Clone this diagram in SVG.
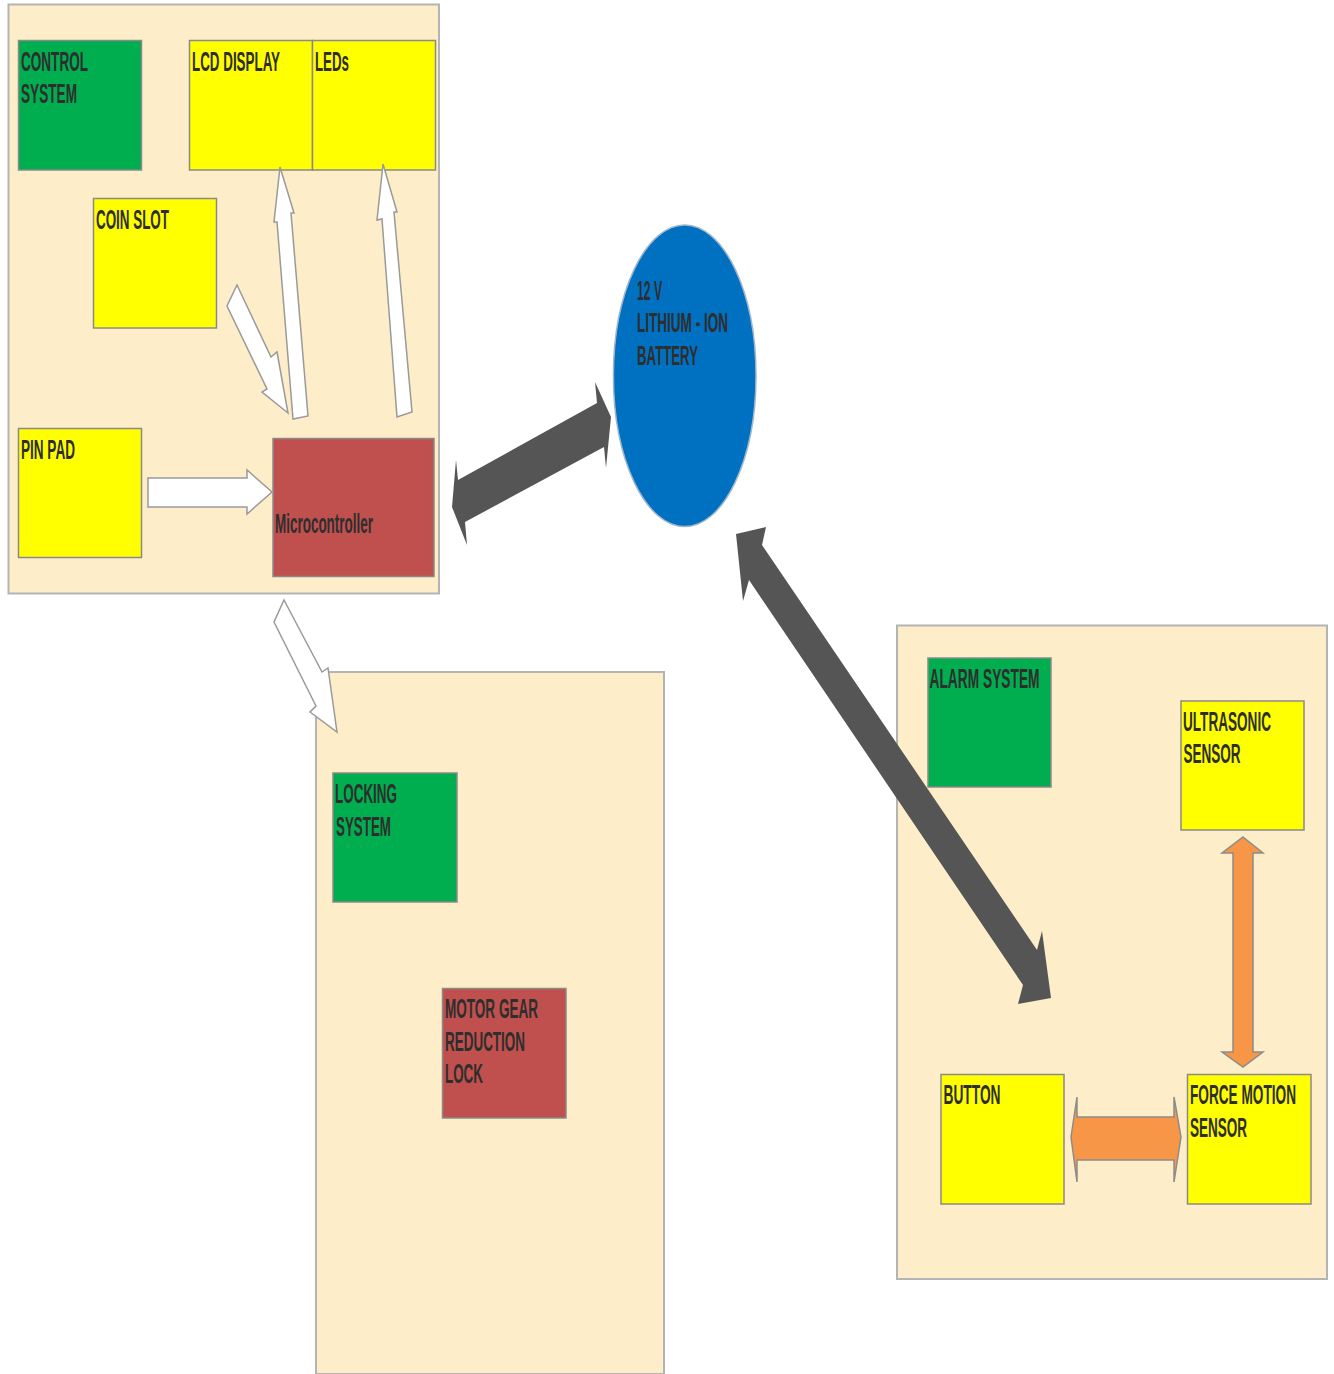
<svg xmlns="http://www.w3.org/2000/svg" width="1334" height="1374" viewBox="0 0 1334 1374">
<style>
.panel{fill:#fdeec9;stroke:#b4b4b4;stroke-width:2}
.box{stroke:#8a8a8a;stroke-width:1.5}
.green{fill:#00ad4f}
.yellow{fill:#ffff00}
.red{fill:#c0504d}
.lbl{font-family:"Liberation Sans",Arial,sans-serif;font-weight:bold;font-size:28px;fill:#2e2e2e}
.white{fill:#ffffff;stroke:#9a9a9a;stroke-width:1.5;stroke-linejoin:miter}
.dark{fill:#555555}
.orange{fill:#f79646;stroke:#8c8c8c;stroke-width:1.5}
</style>
<rect width="1334" height="1374" fill="#ffffff"/>

<g id="control-panel">
<rect class="panel" x="8.5" y="4.5" width="430.5" height="589"/>
</g>
<g id="locking-panel">
<path class="panel" d="M316,1374 L316,672 L664,672 L664,1374 Z"/>
</g>
<g id="alarm-panel">
<rect class="panel" x="897" y="625.5" width="430" height="653.5"/>
</g>

<g id="control-system">
<rect class="box green" x="18.5" y="40.5" width="123" height="129.5"/>
<text class="lbl" transform="translate(21,71) scale(0.5,1)" textLength="134" lengthAdjust="spacingAndGlyphs">CONTROL</text>
<text class="lbl" transform="translate(21,103) scale(0.5,1)" textLength="112" lengthAdjust="spacingAndGlyphs">SYSTEM</text>
</g>
<g id="lcd-display">
<rect class="box yellow" x="189.5" y="40.5" width="123" height="129.5"/>
<text class="lbl" transform="translate(192,71) scale(0.5,1)" textLength="176" lengthAdjust="spacingAndGlyphs">LCD DISPLAY</text>
</g>
<g id="leds">
<rect class="box yellow" x="312.5" y="40.5" width="123" height="129.5"/>
<text class="lbl" transform="translate(315,71) scale(0.5,1)" textLength="68" lengthAdjust="spacingAndGlyphs">LEDs</text>
</g>
<g id="coin-slot">
<rect class="box yellow" x="93.5" y="198.5" width="123" height="129.5"/>
<text class="lbl" transform="translate(96,229) scale(0.5,1)" textLength="146" lengthAdjust="spacingAndGlyphs">COIN SLOT</text>
</g>
<g id="pin-pad">
<rect class="box yellow" x="18.5" y="428.5" width="123" height="129"/>
<text class="lbl" transform="translate(21,459) scale(0.5,1)" textLength="108" lengthAdjust="spacingAndGlyphs">PIN PAD</text>
</g>
<g id="microcontroller">
<rect class="box red" x="273" y="438.5" width="161" height="138"/>
<text class="lbl" transform="translate(275,533) scale(0.5,1)" textLength="196" lengthAdjust="spacingAndGlyphs">Microcontroller</text>
</g>
<g id="battery">
<ellipse cx="684.7" cy="375.8" rx="71.3" ry="150.8" fill="#0070c0" stroke="#9fb5cc" stroke-width="1.5"/>
<text class="lbl" transform="translate(637,300) scale(0.5,1)" textLength="50" lengthAdjust="spacingAndGlyphs">12 V</text>
<text class="lbl" transform="translate(637,332) scale(0.5,1)" textLength="182" lengthAdjust="spacingAndGlyphs">LITHIUM - ION</text>
<text class="lbl" transform="translate(637,365) scale(0.5,1)" textLength="122" lengthAdjust="spacingAndGlyphs">BATTERY</text>
</g>
<g id="locking-system">
<rect class="box green" x="333" y="773" width="124" height="129"/>
<text class="lbl" transform="translate(335,803) scale(0.5,1)" textLength="124" lengthAdjust="spacingAndGlyphs">LOCKING</text>
<text class="lbl" transform="translate(336,836) scale(0.5,1)" textLength="110" lengthAdjust="spacingAndGlyphs">SYSTEM</text>
</g>
<g id="motor-gear">
<rect class="box red" x="442.5" y="988.5" width="123.5" height="129.5"/>
<text class="lbl" transform="translate(445,1018) scale(0.5,1)" textLength="186" lengthAdjust="spacingAndGlyphs">MOTOR GEAR</text>
<text class="lbl" transform="translate(445,1051) scale(0.5,1)" textLength="160" lengthAdjust="spacingAndGlyphs">REDUCTION</text>
<text class="lbl" transform="translate(445,1083) scale(0.5,1)" textLength="76" lengthAdjust="spacingAndGlyphs">LOCK</text>
</g>
<g id="alarm-system">
<rect class="box green" x="928" y="658" width="123" height="129"/>
<text class="lbl" transform="translate(929.5,688) scale(0.5,1)" textLength="220" lengthAdjust="spacingAndGlyphs">ALARM SYSTEM</text>
</g>
<g id="ultrasonic-sensor">
<rect class="box yellow" x="1181" y="701" width="123" height="129"/>
<text class="lbl" transform="translate(1183,731) scale(0.5,1)" textLength="176" lengthAdjust="spacingAndGlyphs">ULTRASONIC</text>
<text class="lbl" transform="translate(1183.5,763) scale(0.5,1)" textLength="114" lengthAdjust="spacingAndGlyphs">SENSOR</text>
</g>
<g id="button">
<rect class="box yellow" x="941" y="1074.5" width="123" height="129.5"/>
<text class="lbl" transform="translate(943.5,1104) scale(0.5,1)" textLength="114" lengthAdjust="spacingAndGlyphs">BUTTON</text>
</g>
<g id="force-motion-sensor">
<rect class="box yellow" x="1187.5" y="1074.5" width="123.5" height="129.5"/>
<text class="lbl" transform="translate(1190,1104) scale(0.5,1)" textLength="212" lengthAdjust="spacingAndGlyphs">FORCE MOTION</text>
<text class="lbl" transform="translate(1190,1137) scale(0.5,1)" textLength="114" lengthAdjust="spacingAndGlyphs">SENSOR</text>
</g>

<g id="connectors">
<polygon class="white" points="280,167 294,213 291,213 308,416 293,419 277,222 274,222"/>
<polygon class="white" points="383,164 397,212 394,212 412,412 397,417 382,219 377,220"/>
<polygon class="white" points="237,285 271,357 277,352 288,413 262,392 267,389 227,306"/>
<polygon class="white" points="148,478 247,478 247,470 272,492 247,514 247,507 148,507"/>
<polygon class="white" points="284,600 322,672 328,668 337,732 310,712 316,706 274,622"/>
<polygon class="dark" points="452,507 456,460 458,480 597,403 595,382 611,417 606,468 604,447 465,522 467,545"/>
<polygon class="dark" points="736,534 766,527 762,545 1037,950 1042,931 1051,998 1018,1004 1023,985 749,580 743,601"/>
<polygon class="orange" points="1243,837 1263,853 1253,853 1253,1052 1263,1052 1243,1067 1222,1052 1233,1052 1233,853 1222,853"/>
<polygon class="orange" points="1071,1137 1077,1097 1077,1117 1174,1117 1174,1097 1181,1137 1174,1182 1174,1160 1077,1160 1077,1182"/>
</g>
</svg>
